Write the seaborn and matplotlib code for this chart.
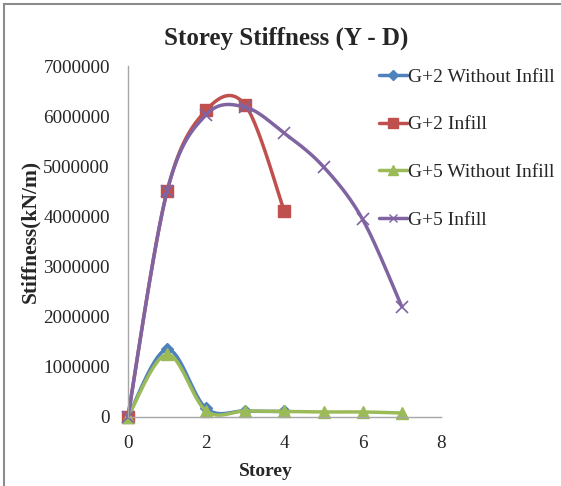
import numpy as np
import pandas as pd
import seaborn as sns
import matplotlib.pyplot as plt
from matplotlib.lines import Line2D
from matplotlib.patches import Rectangle

# Storey numbers for each model
storey_g2 = [0, 1, 2, 3, 4]
storey_g5 = [0, 1, 2, 3, 4, 5, 6, 7]

# Stiffness values (kN/m)
g2_without_infill = [0, 1350000, 170000, 120000, 110000]
g2_infill = [0, 4500000, 6120000, 6220000, 4100000]
g5_without_infill = [0, 1250000, 120000, 120000, 110000, 100000, 100000, 80000]
g5_infill = [0, 4500000, 6030000, 6180000, 5660000, 4990000, 3940000, 2200000]

series_names = ["G+2 Without Infill", "G+2 Infill", "G+5 Without Infill", "G+5 Infill"]
colors = ["#4F81BD", "#C0504D", "#9BBB59", "#8064A2"]
markers = ["D", "s", "^", "x"]
marker_sizes = [6, 9, 9, 8]


def smooth(x, y, n=30):
    # Excel-like smoothed line (Catmull-Rom style bezier)
    x = np.asarray(x, float)
    y = np.asarray(y, float)
    px = np.concatenate([[x[0]], x, [x[-1]]])
    py = np.concatenate([[y[0]], y, [y[-1]]])
    xs, ys = [], []
    t = np.linspace(0, 1, n)
    for i in range(1, len(px) - 2):
        p0 = np.array([px[i], py[i]])
        p3 = np.array([px[i + 1], py[i + 1]])
        p1 = p0 + (np.array([px[i + 1], py[i + 1]]) - np.array([px[i - 1], py[i - 1]])) / 6
        p2 = p3 - (np.array([px[i + 2], py[i + 2]]) - np.array([px[i], py[i]])) / 6
        b = ((1 - t) ** 3)[:, None] * p0 + (3 * (1 - t) ** 2 * t)[:, None] * p1 \
            + (3 * (1 - t) * t ** 2)[:, None] * p2 + (t ** 3)[:, None] * p3
        xs.extend(b[:, 0])
        ys.extend(b[:, 1])
    return np.array(xs), np.array(ys)


sns.set_style("white")
plt.rcParams['font.family'] = ['Liberation Serif', 'DejaVu Serif']

fig = plt.figure(figsize=(5.61, 4.86), dpi=100)
ax = fig.add_axes([0.228, 0.142, 0.558, 0.722])

all_x = [storey_g2, storey_g2, storey_g5, storey_g5]
all_y = [g2_without_infill, g2_infill, g5_without_infill, g5_infill]

handles = []
for name, xs, ys, c, m, ms in zip(series_names, all_x, all_y, colors, markers, marker_sizes):
    sx, sy = smooth(xs, ys)
    sns.lineplot(x=sx, y=sy, ax=ax, color=c, linewidth=2.5, sort=False, estimator=None)
    df = pd.DataFrame({"Storey": xs, "Stiffness": ys})
    if m == "x":
        ax.plot(df["Storey"], df["Stiffness"], linestyle="none", marker=m, markersize=ms,
                color=c, markeredgewidth=1.2, clip_on=False)
    else:
        ax.plot(df["Storey"], df["Stiffness"], linestyle="none", marker=m, markersize=ms,
                color=c, markeredgecolor=c, clip_on=False)
    handles.append(Line2D([0], [0], color=c, linewidth=2.5, marker=m,
                          markersize=ms * 0.8, markeredgewidth=1.0))

for line in ax.get_lines():
    line.set_clip_on(False)

ax.set_xlim(0, 8)
ax.set_ylim(0, 7000000)
ax.set_xticks([0, 2, 4, 6, 8])
ax.set_yticks(range(0, 7000001, 1000000))
ax.set_yticklabels([str(v) for v in range(0, 7000001, 1000000)])
ax.tick_params(axis='both', labelsize=13.8, length=0)
ax.tick_params(axis='y', pad=13)
ax.tick_params(axis='x', pad=13)

for side in ["top", "right"]:
    ax.spines[side].set_visible(False)
for side in ["left", "bottom"]:
    ax.spines[side].set_color("#A6A6A6")
    ax.spines[side].set_linewidth(1.0)

fig.text(286 / 561, 1 - 38 / 486, "Storey Stiffness (Y - D)", fontsize=18,
         fontweight="bold", ha="center", va="center")
ax.set_xlabel("Storey", fontsize=14, fontweight="bold", labelpad=4)
ax.xaxis.set_label_coords(0.44, -0.13)
ax.set_ylabel("Stiffness(kN/m)", fontsize=15.5, fontweight="bold", va="center")
ax.yaxis.set_label_coords(-0.313, 0.53)

fig.legend(handles, series_names, loc="upper left", bbox_to_anchor=(0.645, 0.896),
           frameon=False, fontsize=14, handlelength=1.4, handletextpad=0.05,
           labelspacing=1.55)

# chart frame (top and left edges visible)
fig.add_artist(Rectangle((4 / 561, -0.1), 1.2, (486 - 4) / 486 + 0.1,
                         transform=fig.transFigure, fill=False,
                         edgecolor="#8C8C8C", linewidth=1.5))

fig.savefig("out.png", dpi=100)
